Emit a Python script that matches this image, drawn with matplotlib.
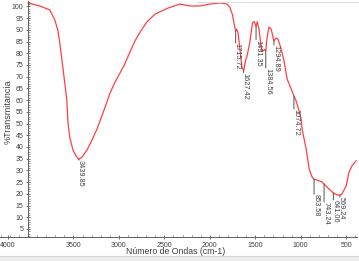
import matplotlib
matplotlib.use('Agg')
from matplotlib import pyplot as plt
from matplotlib.ticker import MultipleLocator
from matplotlib.patches import Rectangle

# espectro IR (numero de onda cm-1, % transmitancia)
wavenumber = [4000, 3870, 3760, 3705, 3672, 3650, 3617, 3573, 3560, 3540, 3505, 3472,
              3440, 3406, 3351, 3296, 3241, 3175, 3098, 3043, 2988, 2940, 2880, 2820,
              2760, 2690, 2600, 2460, 2330, 2220, 2110, 2000, 1890, 1812, 1780, 1750,
              1730, 1715.7, 1705, 1690, 1668, 1648, 1627.4, 1605, 1592, 1560, 1530, 1510,
              1491.4, 1478, 1458, 1436, 1424, 1396, 1384.6, 1372, 1350, 1325, 1294.9, 1270,
              1250, 1215, 1182, 1150, 1105, 1074.7, 1050, 1018, 996, 985, 940, 907,
              875, 853.6, 765, 743.2, 690, 641.1, 600, 569.2, 545, 500, 468, 435, 390]
transmit = [101.5, 100.2, 98.5, 94.2, 89.9, 84.4, 74.1, 60.0, 50.2, 44.0, 38.7, 36.2,
            34.8, 35.7, 38.7, 43.0, 47.7, 54.5, 63.0, 67.7, 71.6, 75.0, 80.5, 85.5,
            89.5, 93.5, 96.8, 99.3, 101.0, 100.2, 100.2, 101.0, 101.5, 101.0, 99.7, 96.3,
            92.0, 89.5, 90.3, 88.8, 81.5, 74.3, 72.6, 77.3, 78.6, 84.6, 93.1, 93.5,
            91.4, 93.5, 90.1, 82.8, 80.7, 81.6, 81.0, 86.2, 91.2, 90.3, 85.2, 86.5,
            86.0, 81.9, 76.4, 69.1, 64.8, 61.8, 59.6, 55.4, 52.0, 47.7, 39.1, 30.6,
            27.2, 26.3, 25.1, 24.2, 22.1, 20.4, 19.5, 19.5, 20.0, 23.4, 29.4, 32.0, 34.1]

# picos marcados
peak_pos = [3439.85, 1715.72, 1627.42, 1491.35, 1384.56, 1294.89, 1074.72,
            853.58, 743.24, 641.06, 569.24]
peak_val = [34.8, 89.5, 72.6, 91.4, 81.0, 85.2, 61.8, 26.3, 24.2, 20.4, 19.5]
peak_labels = ['3439.85', '1715.72', '1627.42', '1491.35', '1384.56', '1294.89',
               '1074.72', '853.58', '743.24', '641.06', '569.24']
# largo de la linea guia (px)
peak_drop = [1, 12, 2, 13, 17, 4, 13, 15, 18, 7, 2]

xtick_pos = [4225, 3500, 3000, 2500, 2000, 1500, 1000, 500]
xtick_labels = ['4000', '3500', '3000', '2500', '2000', '1500', '1000', '500']
ytick_pos = list(range(5, 101, 5))

font = ['Liberation Sans Narrow', 'Liberation Sans', 'DejaVu Sans']
plt.rcParams['font.family'] = font
txt_color = '#404040'

fig = plt.figure(figsize=(3.59, 2.61), dpi=100)
fig.patch.set_facecolor('white')
ax = fig.add_axes([0.0, 0.092, 0.9944, 0.904])

ax.plot(wavenumber, transmit, color='#ff4040', lw=0.9)
ax.set_xlim(4308, 381)
ax.set_ylim(1.58, 102.3)

for x, y, lab, d in zip(peak_pos, peak_val, peak_labels, peak_drop):
    d_pt = d * 0.72
    ax.annotate('', xy=(x, y), xytext=(0, -d_pt), textcoords='offset points',
                arrowprops=dict(arrowstyle='-', color='#505050', lw=0.7,
                                shrinkA=0, shrinkB=0))
    ax.annotate(lab, xy=(x, y), xytext=(1.2, -d_pt), textcoords='offset points',
                rotation=270, ha='center', va='top', fontsize=5.3, color=txt_color)

ax.spines['top'].set_visible(False)
ax.spines['right'].set_visible(False)
ax.spines['left'].set_position(('data', 4000))
for s in ('left', 'bottom'):
    ax.spines[s].set_color('#606060')
    ax.spines[s].set_linewidth(0.7)

ax.set_xticks(xtick_pos)
ax.set_xticklabels(xtick_labels)
ax.set_yticks(ytick_pos)
ax.xaxis.set_minor_locator(MultipleLocator(100))
ax.yaxis.set_minor_locator(MultipleLocator(1))
ax.tick_params(axis='both', which='major', labelsize=5, colors='#606060',
               labelcolor=txt_color, length=2.5, width=0.6, direction='inout')
ax.tick_params(axis='both', which='minor', colors='#707070', length=1.5, width=0.5,
               direction='in')
ax.tick_params(axis='x', pad=2)
ax.tick_params(axis='y', pad=2)

fig.text(176 / 359, 1 - 252 / 261, 'Número de Ondas (cm-1)', ha='center', va='center',
         fontsize=6.3, color=txt_color)
fig.text(8 / 359, 1 - 112 / 261, '%Transmitancia', ha='center', va='center',
         rotation=90, fontsize=6.5, color=txt_color)

# marco gris claro de la imagen
fig.patches.append(Rectangle((0, 0), 1, 5 / 261, transform=fig.transFigure,
                             facecolor='#eeeeee', edgecolor='none', zorder=-1))
fig.lines.append(plt.Line2D([0, 1], [1 - 256 / 261] * 2, transform=fig.transFigure,
                            color='#d8d8d8', lw=0.8))
fig.lines.append(plt.Line2D([0.55, 1], [1 - 1.5 / 261] * 2, transform=fig.transFigure,
                            color='#dcdcdc', lw=0.8))

fig.savefig('out.png', dpi=100)
